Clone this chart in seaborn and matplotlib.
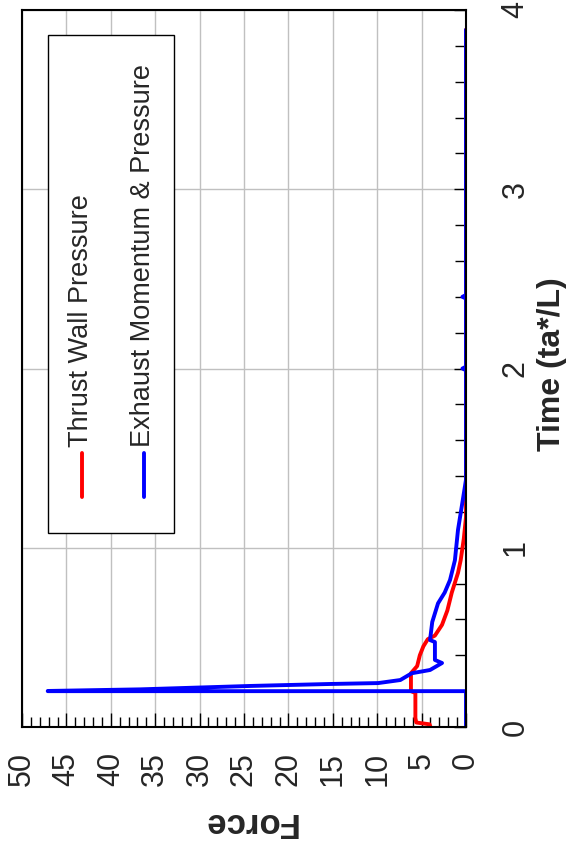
import numpy as np
import pandas as pd
import seaborn as sns
import matplotlib
matplotlib.use('Agg')
import matplotlib.pyplot as plt
from matplotlib.patches import Rectangle
from matplotlib.ticker import MultipleLocator

# Thrust wall pressure (time, force)
red_time = [0.0, 0.015, 0.025, 0.05, 0.19, 0.20, 0.30, 0.34, 0.40, 0.45, 0.49,
            0.51, 0.57, 0.65, 0.75, 0.86, 0.93, 1.05, 1.17, 3.89]
red_force = [4.0, 4.1, 5.6, 5.7, 5.7, 6.2, 6.2, 5.5, 5.2, 4.8, 4.3,
             3.5, 2.7, 2.1, 1.6, 0.9, 0.6, 0.25, 0.0, 0.0]

# Exhaust momentum & pressure (time, force)
blue_time = [0.0, 0.2, 0.2, 0.201, 0.21, 0.229, 0.24, 0.245, 0.262, 0.30, 0.318,
             0.357, 0.374, 0.474, 0.485, 0.586, 0.69, 0.75, 0.82, 0.93, 1.1,
             1.27, 1.38, 1.99, 2.0, 2.01, 2.39, 2.4, 2.41, 3.89]
blue_force = [0.0, 0.0, 47.1, 47.1, 36.7, 24.3, 15.3, 9.9, 7.4, 6.1, 4.05,
              2.7, 3.5, 3.5, 4.05, 3.8, 3.15, 2.4, 1.8, 1.25, 0.9,
              0.35, 0.0, 0.0, 0.4, 0.0, 0.0, 0.4, 0.0, 0.0]

series = ['Thrust Wall Pressure', 'Exhaust Momentum & Pressure']
colors = {'Thrust Wall Pressure': '#ff0000', 'Exhaust Momentum & Pressure': '#0000ff'}

df = pd.concat([
    pd.DataFrame({'time': red_time, 'force': red_force, 'series': series[0]}),
    pd.DataFrame({'time': blue_time, 'force': blue_force, 'series': series[1]}),
], ignore_index=True)

sns.set_theme(style='white')
plt.rcParams['font.family'] = ['Liberation Sans', 'DejaVu Sans']

fig = plt.figure(figsize=(5.68, 8.52), dpi=100)
ax = fig.add_axes([22 / 568, 1 - 727 / 852, 444 / 568, 717 / 852])

# chart is drawn turned on its side: force runs along the bottom, time up the right
sns.lineplot(data=df, x='force', y='time', hue='series', hue_order=series,
             palette=colors, sort=False, estimator=None, linewidth=2.8,
             legend=False, ax=ax)

ax.set_xlim(50, 0)
ax.set_ylim(0, 4)
ax.xaxis.set_major_locator(MultipleLocator(5))
ax.xaxis.set_minor_locator(MultipleLocator(1))
ax.yaxis.set_major_locator(MultipleLocator(1))
ax.yaxis.set_minor_locator(MultipleLocator(0.2))
ax.grid(True, which='major', color='#c0c0c0', linewidth=1)
ax.set_axisbelow(True)

ax.yaxis.tick_right()
ax.tick_params(axis='x', which='both', direction='in', bottom=True, top=False,
               color='black', width=1)
ax.tick_params(axis='y', which='both', direction='in', right=True, left=False,
               color='black', width=1)
ax.tick_params(axis='x', which='major', length=10, pad=18, labelsize=22, labelrotation=90)
ax.tick_params(axis='x', which='minor', length=7)
ax.tick_params(axis='y', which='major', length=9, pad=25, labelsize=22, labelrotation=90)
ax.tick_params(axis='y', which='minor', length=8)
ax.set_xticks(range(0, 51, 5))
ax.set_xticklabels([str(v) for v in range(0, 51, 5)], va='top', ha='center')
ax.set_yticks(range(0, 5))
ax.set_yticklabels([str(v) for v in range(0, 5)], va='center', ha='left')

for s in ax.spines.values():
    s.set_color('black')
    s.set_linewidth(1.5)

ax.set_xlabel('Force', fontsize=25, fontweight='bold', rotation=180)
ax.xaxis.set_label_coords((249 - 22) / 444, (727 - 822) / 717)
ax.xaxis.label.set_va('center')
ax.set_ylabel('Time (ta*/L)', fontsize=23, fontweight='bold', rotation=90)
ax.yaxis.set_label_position('right')
ax.yaxis.set_label_coords((552 - 22) / 444, (727 - 364) / 717)
ax.yaxis.label.set_va('center')
ax.yaxis.label.set_ha('center')

# legend box drawn by hand so its text can be turned like the rest
def fx(px):
    return px / 568

def fy(py):
    return 1 - py / 852

fig.patches.append(Rectangle((fx(48), fy(533)), fx(174) - fx(48), fy(35) - fy(533),
                             transform=fig.transFigure, facecolor='white',
                             edgecolor='black', linewidth=1, zorder=5))
for name, xc in zip(series, [82, 144]):
    fig.add_artist(plt.Line2D([fx(xc), fx(xc)], [fy(497), fy(453)],
                              transform=fig.transFigure, color=colors[name],
                              linewidth=2.8, zorder=6))
    fig.text(fx(xc - 1), fy(447), name, rotation=90, ha='center', va='bottom',
             fontsize=19.5, zorder=6)

fig.savefig('out.png', dpi=100)
